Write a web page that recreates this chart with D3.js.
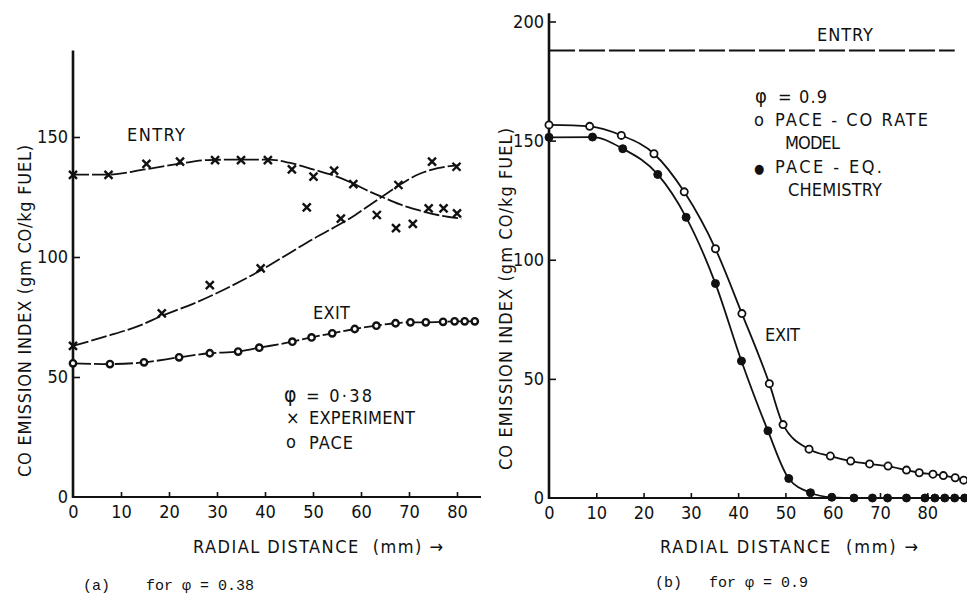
<!DOCTYPE html>
<html><head><meta charset="utf-8">
<script src="https://cdn.jsdelivr.net/npm/d3@7"></script>
<style>
html,body{margin:0;padding:0;background:#fff;}
svg{display:block;}
text{font-family:"DejaVu Sans Condensed","Liberation Sans Narrow","DejaVu Sans",sans-serif;fill:#111;}
text.cap{font-family:"Liberation Mono","DejaVu Sans Mono",monospace;}
text.pre{white-space:pre;}
</style></head><body>
<svg id="c" width="967" height="605"></svg>
<script>
// ---------- data ----------
const xTicks = [0,10,20,30,40,50,60,70,80];
const yTicksA = [0,50,100,150];
const yTicksB = [0,50,100,150,200];

// panel (a)  phi = 0.38
const aEntryExpX = [0,7.4,15.3,22.3,29.6,35,40.6,45.6,50.1,48.7,54.4,58.4,63.3,67.3,70.8,74.1,77.2,80];
const aEntryExpY = [134.2,134.2,138.8,139.7,140.4,140.4,140.4,136.5,133.5,120.7,136,130.4,117.5,112,113.8,120.3,120.3,118.2];
const aExitExpX = [0,18.5,28.5,39.1,55.8,67.8,74.8,79.9];
const aExitExpY = [63,76.5,88.3,95.3,116,130,139.7,137.6];
const aEntryCurveX = [0,7.4,15,22,28,35,40.6,45,50,55,58.4,61,64.3,68,72,76,80.9];
const aEntryCurveY = [134.3,134.3,136.5,138.8,140.4,140.6,140.6,139.3,136.5,133.5,130.6,128,125.1,122,119.5,117.5,116];
const aExitCurveX = [0,7,14,18.5,25,30,35,39.6,45,50,55,58,61,64.3,68,72,76,80.5];
const aExitCurveY = [63,67,71.5,75.5,80.5,85,90,95,101.5,107.5,113,116.5,120.5,125,130,134.5,137,138.3];
const aPaceX = [0,7.7,14.8,22.1,28.5,34.4,38.8,45.7,49.7,54,58.7,63.2,67.2,70.3,73.5,77.1,79.5,81.6,83.7];
const aPaceY = [55.7,55.4,56.1,58.2,59.9,60.6,62.2,64.7,66.5,68.2,70,71.4,72.4,72.8,72.8,73,73.2,73.2,73.2];

// panel (b)  phi = 0.9
const bEntryX = [0,85.8];
const bEntryY = [187.8,187.8];
const bRateX = [0,8.6,15.3,22.2,28.6,35.2,40.8,46.6,49.5,55,59.5,63.8,67.8,71.7,75.6,78.3,81.2,83.4,85.9,87.7];
const bRateY = [156.6,156,152.2,144.5,128.5,104.6,77.4,48,30.8,20.5,17.6,15.5,14.3,13.4,11.7,10.6,10,9.4,8.5,7.5];
const bEqX = [0,9.2,15.6,23,29,35.2,40.7,46.3,50.7,55.3,59.8,64.5,68.4,71.6,75.6,79.5,81.6,83.7,85.8,87.9];
const bEqY = [151.4,151.5,146.6,135.8,117.8,90,57.5,28.2,8.2,2.2,0.3,0,0,0,0,0,0,0,0,0];

// ---------- drawing ----------
const svg = d3.select('#c');
const ink = '#111';
const zip = (xs, ys) => xs.map((x, i) => [x, ys[i]]);

const xA = d3.scaleLinear().domain([0, 85]).range([73, 481]);
const yA = d3.scaleLinear().domain([0, 150]).range([497, 137]);
const xB = d3.scaleLinear().domain([0, 88.4]).range([549, 967]);
const yB = d3.scaleLinear().domain([0, 200]).range([498, 21.5]);

function axes(sx, sy, yTicks, yTop, xEnd) {
  svg.append('line').attr('x1', sx(0)).attr('x2', sx(0)).attr('y1', sy(0) + 1).attr('y2', sy(yTop))
    .attr('stroke', ink).attr('stroke-width', 2.6);
  svg.append('line').attr('x1', sx(0)).attr('x2', sx(xEnd)).attr('y1', sy(0)).attr('y2', sy(0))
    .attr('stroke', ink).attr('stroke-width', 2.2);
  const gy = svg.append('g').attr('transform', `translate(${sx(0)},0)`)
    .call(d3.axisLeft(sy).tickValues(yTicks).tickSizeInner(-7).tickSizeOuter(0).tickPadding(5).tickFormat(d3.format('d')));
  gy.attr('font-size', 18).attr('font-family', null);
  gy.select('.domain').remove();
  gy.selectAll('.tick line').attr('stroke', ink).attr('stroke-width', 1.6).filter(d => d === 0).remove();
  const gx = svg.append('g').attr('transform', `translate(0,${sy(0)})`)
    .call(d3.axisBottom(sx).tickValues(xTicks).tickSizeInner(-5).tickSizeOuter(0).tickPadding(8).tickFormat(d3.format('d')));
  gx.attr('font-size', 18).attr('font-family', null);
  gx.select('.domain').remove();
  gx.selectAll('.tick line').attr('stroke', ink).attr('stroke-width', 1.6).filter(d => d === 0).remove();
}

function curve(sx, sy, pts, dash, w) {
  svg.append('path').datum(pts)
    .attr('d', d3.line().x(d => sx(d[0])).y(d => sy(d[1])).curve(d3.curveMonotoneX))
    .attr('fill', 'none').attr('stroke', ink).attr('stroke-width', w || 1.8)
    .attr('stroke-dasharray', dash || null);
}
function crosses(sx, sy, pts) {
  svg.append('g').selectAll('path').data(pts).join('path')
    .attr('transform', d => `translate(${sx(d[0])},${sy(d[1])})`)
    .attr('d', 'M-4,-4L4,4M-4,4L4,-4').attr('stroke', ink).attr('stroke-width', 2.4).attr('fill', 'none');
}
function dots(sx, sy, pts, filled, r, sw) {
  svg.append('g').selectAll('circle').data(pts).join('circle')
    .attr('cx', d => sx(d[0])).attr('cy', d => sy(d[1])).attr('r', r)
    .attr('fill', filled ? ink : '#fff').attr('stroke', ink).attr('stroke-width', sw);
}
function txt(x, y, s, opts) {
  opts = opts || {};
  const t = svg.append('text').attr('x', x).attr('y', y).text(s).attr('font-size', opts.size || 18);
  if (opts.cls) t.attr('class', opts.cls);
  if (opts.anchor) t.attr('text-anchor', opts.anchor);
  if (opts.len) t.attr('textLength', opts.len).attr('lengthAdjust', 'spacing');
  return t;
}

// ---- panel (a)
axes(xA, yA, yTicksA, 186, 85);
curve(xA, yA, zip(aEntryCurveX, aEntryCurveY), '16,3');
curve(xA, yA, zip(aExitCurveX, aExitCurveY), '16,3');
curve(xA, yA, zip(aPaceX, aPaceY), '18,3');
crosses(xA, yA, zip(aEntryExpX, aEntryExpY));
crosses(xA, yA, zip(aExitExpX, aExitExpY));
dots(xA, yA, zip(aPaceX, aPaceY), false, 3.2, 2.4);

txt(127, 141, 'ENTRY', {len: 58});
txt(313, 319, 'EXIT', {len: 37});
txt(284, 402, 'φ', {size: 21});
txt(306, 402, '= 0·38', {len: 66});
txt(286, 424, '×');
txt(309, 424, 'EXPERIMENT', {len: 106});
txt(286, 448, 'o');
txt(309, 449, 'PACE', {len: 44});
txt(193, 553, 'RADIAL DISTANCE  (mm) →', {cls: 'pre', len: 250});
svg.append('text').attr('transform', 'translate(31,311) rotate(-90)').attr('text-anchor', 'middle')
  .attr('font-size', 18).attr('textLength', 332).attr('lengthAdjust', 'spacing')
  .text('CO EMISSION INDEX (gm CO/kg FUEL)');
txt(83, 590, '(a)    for φ = 0.38', {cls: 'cap pre', size: 15});

// ---- panel (b)
axes(xB, yB, yTicksB, 203.5, 88.4);
curve(xB, yB, zip(bEntryX, bEntryY), '26,4', 2);
curve(xB, yB, zip(bRateX, bRateY));
curve(xB, yB, zip(bEqX, bEqY));
dots(xB, yB, zip(bRateX, bRateY), false, 3.6, 1.8);
dots(xB, yB, zip(bEqX, bEqY), true, 4, 1);

txt(817, 41, 'ENTRY', {len: 56});
txt(755, 103, 'φ', {size: 20});
txt(778, 103, '= 0.9', {cls: 'pre', len: 49});
txt(754, 126, 'o');
txt(775, 126, 'PACE - CO RATE', {cls: 'pre', len: 153});
txt(785, 149, 'MODEL', {len: 55});
txt(754, 173, '●', {size: 13});
txt(775, 173, 'PACE - EQ.', {cls: 'pre', len: 107});
txt(788, 196, 'CHEMISTRY', {len: 94});
txt(765, 341, 'EXIT', {len: 35});
txt(660, 553, 'RADIAL DISTANCE  (mm) →', {cls: 'pre', len: 258});
svg.append('text').attr('transform', 'translate(512,299) rotate(-90)').attr('text-anchor', 'middle')
  .attr('font-size', 18).attr('textLength', 342).attr('lengthAdjust', 'spacing')
  .text('CO EMISSION INDEX (gm CO/kg FUEL)');
txt(655, 587, '(b)   for φ = 0.9', {cls: 'cap pre', size: 15});
</script>
</body></html>
